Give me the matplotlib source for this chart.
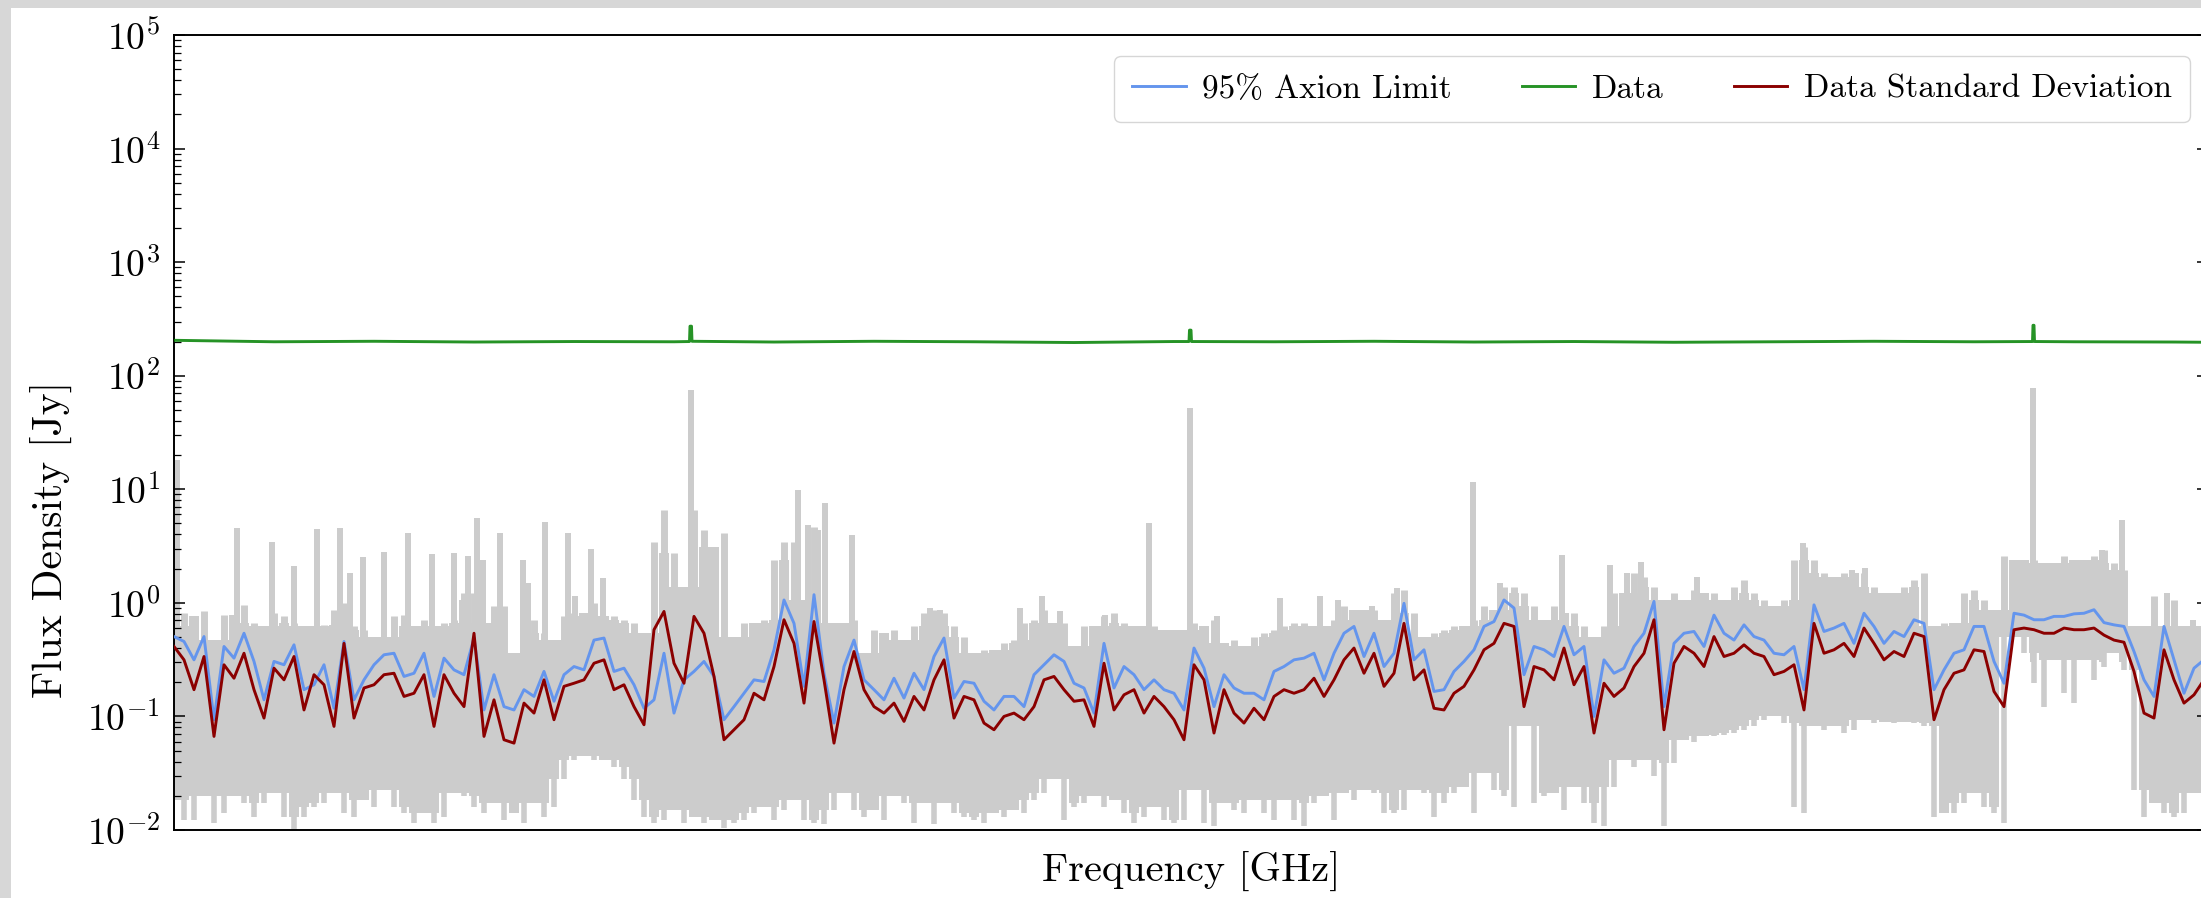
import numpy as np
import matplotlib
matplotlib.use("Agg")
import matplotlib.pyplot as plt
from matplotlib.patches import Rectangle
from matplotlib.ticker import LogLocator, NullFormatter

plt.rcParams.update({
    "font.family": "serif",
    "font.serif": ["cmr10"],
    "mathtext.fontset": "cm",
    "axes.formatter.use_mathtext": True,
})

# ---------------------------------------------------------------- data
# frequency channels (evenly spaced grid)
n_chan = 204
chan = np.arange(n_chan, dtype=float)

# 95% axion limit [Jy]
axion_limit = [
    0.505, 0.457, 0.315, 0.505, 0.0935, 0.413, 0.326, 0.54, 0.305, 0.14, 0.305, 0.285, 0.427, 0.172, 0.19, 0.285, 0.118,
    0.457, 0.14, 0.21, 0.285, 0.349, 0.36, 0.225, 0.24, 0.36, 0.15, 0.326, 0.257, 0.233, 0.49, 0.114, 0.233, 0.122,
    0.114, 0.172, 0.15, 0.249, 0.136, 0.233, 0.275, 0.257, 0.47, 0.49, 0.249, 0.266, 0.19, 0.118, 0.14, 0.36, 0.107,
    0.21, 0.249, 0.305, 0.225, 0.0935, 0.122, 0.16, 0.21, 0.203, 0.386, 1.06, 0.66, 0.184, 1.18, 0.24, 0.0874, 0.275,
    0.47, 0.21, 0.172, 0.14, 0.217, 0.145, 0.24, 0.172, 0.337, 0.49, 0.145, 0.203, 0.196, 0.136, 0.114, 0.15, 0.15,
    0.122, 0.233, 0.285, 0.349, 0.305, 0.196, 0.178, 0.107, 0.44, 0.178, 0.275, 0.233, 0.172, 0.21, 0.172, 0.16,
    0.114, 0.40, 0.266, 0.122, 0.233, 0.178, 0.16, 0.16, 0.14, 0.249, 0.275, 0.315, 0.326, 0.36, 0.21, 0.36, 0.54,
    0.62, 0.337, 0.54, 0.275, 0.36, 0.99, 0.315, 0.386, 0.166, 0.172, 0.249, 0.305, 0.386, 0.62, 0.685, 1.06, 0.90,
    0.233, 0.413, 0.386, 0.337, 0.62, 0.349, 0.413, 0.10, 0.315, 0.24, 0.266, 0.413, 0.54, 1.03, 0.122, 0.44, 0.54,
    0.56, 0.413, 0.78, 0.54, 0.47, 0.64, 0.505, 0.47, 0.36, 0.349, 0.413, 0.172, 0.96, 0.56, 0.60, 0.66,
    0.44, 0.81, 0.62, 0.44, 0.56, 0.505, 0.71, 0.66, 0.172, 0.257, 0.36, 0.386, 0.62, 0.62, 0.305, 0.196, 0.81, 0.78,
    0.71, 0.71, 0.76, 0.76, 0.80, 0.81, 0.87, 0.67, 0.64, 0.62, 0.373, 0.21, 0.15, 0.62, 0.315, 0.16, 0.266, 0.315,
]

# standard deviation of the data [Jy]
data_std = [
    0.413, 0.315, 0.172, 0.337, 0.0667, 0.285, 0.217, 0.36, 0.172, 0.0967, 0.266, 0.21, 0.337, 0.114, 0.233, 0.19, 0.0817,
    0.44, 0.0967, 0.178, 0.19, 0.233, 0.24, 0.15, 0.16, 0.233, 0.0817, 0.233, 0.16, 0.122, 0.54, 0.0667, 0.14, 0.0623,
    0.0582, 0.131, 0.107, 0.21, 0.0935, 0.184, 0.196, 0.21, 0.294, 0.315, 0.172, 0.19, 0.122, 0.0845, 0.58, 0.84, 0.294,
    0.196, 0.76, 0.54, 0.225, 0.0623, 0.0763, 0.0935, 0.16, 0.14, 0.275, 0.71, 0.44, 0.131, 0.685, 0.21, 0.0582, 0.172,
    0.373, 0.172, 0.122, 0.107, 0.131, 0.0904, 0.15, 0.114, 0.21, 0.315, 0.0967, 0.15, 0.14, 0.0874, 0.0763, 0.10, 0.107,
    0.0935, 0.122, 0.21, 0.225, 0.172, 0.136, 0.14, 0.0817, 0.294, 0.114, 0.155, 0.172, 0.107, 0.15, 0.122, 0.0935,
    0.0623, 0.285, 0.21, 0.0714, 0.172, 0.107, 0.0874, 0.118, 0.0935, 0.15, 0.172, 0.16, 0.172, 0.217, 0.15, 0.21, 0.315,
    0.40, 0.24, 0.36, 0.184, 0.24, 0.66, 0.21, 0.257, 0.118, 0.114, 0.16, 0.184, 0.257, 0.386, 0.44, 0.66, 0.62,
    0.122, 0.275, 0.257, 0.21, 0.40, 0.19, 0.275, 0.0714, 0.196, 0.15, 0.178, 0.275, 0.36, 0.71, 0.0763, 0.294, 0.413,
    0.36, 0.275, 0.505, 0.337, 0.36, 0.427, 0.36, 0.337, 0.233, 0.249, 0.285, 0.114, 0.66, 0.36, 0.386, 0.44,
    0.337, 0.60, 0.44, 0.315, 0.373, 0.337, 0.54, 0.505, 0.0935, 0.172, 0.24, 0.257, 0.386, 0.373, 0.166, 0.122, 0.58,
    0.60, 0.58, 0.54, 0.54, 0.60, 0.58, 0.58, 0.60, 0.52, 0.47, 0.45, 0.249, 0.107, 0.0967, 0.386, 0.21, 0.131, 0.155, 0.21,
]

# residual spectrum envelope [Jy]: upper and lower edge per channel
resid_upper = [
    0.62, 0.81, 0.76, 0.84, 0.47, 0.78, 0.78, 0.96, 0.66, 0.62, 0.81, 0.76, 0.66, 0.62, 0.62, 0.64, 0.87,
    0.99, 0.62, 0.58, 0.505, 0.505, 0.76, 0.78, 0.62, 0.71, 0.62, 0.66, 0.71, 1.22, 1.22, 0.66, 0.93, 0.93,
    0.36, 0.62, 0.71, 0.54, 0.47, 0.76, 0.81, 0.81, 0.99, 0.76, 0.76, 0.71, 0.66, 0.54, 3.46, 6.58, 2.73,
    1.39, 6.58, 4.39, 3.13, 4.10, 0.505, 0.66, 0.66, 0.71, 2.39, 3.46, 3.46, 1.06, 4.70, 0.66, 0.66, 0.66,
    0.71, 0.36, 0.58, 0.54, 0.58, 0.47, 0.62, 0.81, 0.87, 0.81, 0.62, 0.505, 0.36, 0.386, 0.386, 0.44, 0.47,
    0.66, 0.71, 0.87, 0.66, 0.66, 0.413, 0.62, 0.62, 0.76, 0.81, 0.66, 0.62, 0.62, 0.62, 0.58, 0.58,
    0.58, 0.66, 0.62, 0.71, 0.44, 0.47, 0.413, 0.505, 0.54, 0.58, 0.62, 0.66, 0.66, 0.62, 0.62, 0.71, 0.93,
    0.87, 0.87, 0.87, 0.71, 1.22, 1.30, 0.81, 0.505, 0.54, 0.58, 0.62, 0.62, 0.71, 0.93, 0.87, 1.39, 1.39,
    1.22, 0.93, 0.71, 0.93, 0.81, 0.81, 0.62, 0.505, 0.62, 1.22, 1.22, 1.82, 1.70, 1.39, 1.06, 1.22, 1.06,
    1.30, 1.22, 1.22, 1.06, 1.39, 1.59, 1.22, 1.06, 0.93, 1.06, 2.39, 3.13, 2.39, 1.82, 1.70, 1.82,
    1.82, 1.82, 1.39, 1.22, 1.22, 1.39, 1.59, 1.82, 0.62, 0.66, 0.66, 1.22, 1.30, 1.06, 0.87, 2.56, 2.39, 2.39,
    2.39, 2.23, 2.23, 2.56, 2.39, 2.39, 2.56, 2.93, 2.23, 1.95, 0.62, 0.62, 1.14, 0.62, 1.06, 0.62, 0.62, 0.62,
]
resid_lower = [
    0.0185, 0.0123, 0.0123, 0.020, 0.0115, 0.014, 0.020, 0.0173, 0.013, 0.0173, 0.021, 0.013, 0.0101, 0.013, 0.016, 0.0173, 0.021,
    0.014, 0.013, 0.0185, 0.016, 0.0226, 0.016, 0.014, 0.0115, 0.014, 0.0115, 0.013, 0.021, 0.020, 0.016, 0.014, 0.0173, 0.0123,
    0.014, 0.0115, 0.0173, 0.013, 0.016, 0.028, 0.0416, 0.0445, 0.0416, 0.0416, 0.036, 0.028, 0.0185, 0.013, 0.0115, 0.0123, 0.015,
    0.0115, 0.013, 0.0115, 0.0123, 0.0104, 0.0115, 0.0123, 0.014, 0.016, 0.0123, 0.015, 0.0185, 0.0123, 0.0115, 0.0112, 0.015, 0.021,
    0.015, 0.013, 0.015, 0.0123, 0.020, 0.0173, 0.0115, 0.0173, 0.0112, 0.0173, 0.014, 0.013, 0.0123, 0.0115, 0.014, 0.013, 0.015,
    0.014, 0.0185, 0.021, 0.028, 0.0123, 0.016, 0.0173, 0.020, 0.016, 0.0185, 0.014, 0.0115, 0.013, 0.016, 0.0123, 0.0115,
    0.0123, 0.0226, 0.0115, 0.0108, 0.0173, 0.015, 0.014, 0.0185, 0.014, 0.0123, 0.0185, 0.0123, 0.0108, 0.0173, 0.020, 0.0123, 0.021,
    0.0185, 0.0226, 0.021, 0.014, 0.014, 0.015, 0.0226, 0.021, 0.013, 0.0173, 0.021, 0.024, 0.014, 0.032, 0.0226, 0.020, 0.016,
    0.082, 0.0173, 0.020, 0.021, 0.015, 0.024, 0.0173, 0.0115, 0.0108, 0.024, 0.0416, 0.036, 0.0416, 0.030, 0.0108, 0.039, 0.062,
    0.060, 0.067, 0.067, 0.069, 0.071, 0.076, 0.082, 0.0935, 0.10, 0.087, 0.016, 0.014, 0.082, 0.076, 0.082, 0.071,
    0.076, 0.0935, 0.087, 0.090, 0.087, 0.090, 0.087, 0.082, 0.013, 0.014, 0.014, 0.0173, 0.021, 0.016, 0.014, 0.0115, 0.505, 0.36,
    0.196, 0.122, 0.315, 0.16, 0.131, 0.315, 0.21, 0.275, 0.36, 0.257, 0.0226, 0.013, 0.0173, 0.014, 0.013, 0.014, 0.021, 0.021,
]

# narrow residual spikes: channel position and peak [Jy]
spike_chan = [
    0.27, 6.27, 9.77, 12.0, 14.27, 16.6, 17.6, 18.87, 21.0, 23.43, 25.77, 28.0, 28.77, 29.37, 30.27, 30.93,
    32.6, 34.93, 35.43, 37.1, 39.43, 40.1, 41.67, 42.87, 51.67, 62.43, 63.43, 64.43, 65.1, 67.83, 75.6, 76.6,
    84.6, 86.77, 88.6, 93.1, 97.53, 101.6, 104.27, 110.6, 114.6, 116.43, 119.77, 122.27, 129.93, 132.6,
    138.77, 143.6, 145.27, 146.7, 152.27, 162.93, 167.77, 169.1, 185.93, 192.77, 194.77, 199.27, 201.93,
]
spike_jy = [
    18.1, 4.54, 3.40, 2.09, 4.48, 4.54, 1.82, 2.52, 2.79, 4.16, 2.70, 2.77, 1.06, 2.59, 5.56, 2.39,
    4.10, 2.39, 1.49, 5.19, 4.10, 1.14, 2.99, 1.65, 74.8, 9.86, 4.85, 4.39, 7.53, 3.97, 0.90, 0.87,
    0.90, 1.14, 0.84, 0.78, 5.02, 51.6, 0.76, 1.10, 1.14, 1.06, 0.93, 1.35, 11.7, 1.49,
    2.64, 2.16, 1.82, 2.31, 1.70, 3.35, 1.95, 2.02, 77.4, 2.93, 5.37, 1.22, 0.71,
]

# measured flux density [Jy]
data_chan = [0, 10, 20, 30, 40, 50, 51.55, 51.6, 51.75, 51.8, 60, 70, 80, 90, 100,
             101.5, 101.55, 101.7, 101.75, 110, 120, 130, 140, 150, 160, 170, 180,
             185.85, 185.9, 186.0, 186.05, 190, 200, 203.4]
data_jy = [205, 199, 201, 198, 200, 199, 200, 273, 273, 201, 198, 201, 199, 196, 200,
           200, 252, 252, 200, 199, 201, 198, 200, 197, 199, 201, 199,
           200, 278, 278, 200, 199, 198, 197]

# ---------------------------------------------------------------- figure
W, H = 2201, 898
fig = plt.figure(figsize=(W / 100, H / 100), dpi=100)
fig.patch.set_facecolor("white")
# light frame strips along the top and left edge
fig.patches.append(Rectangle((0, 1 - 8 / H), 1, 8 / H, transform=fig.transFigure,
                             facecolor="#d7d7d7", edgecolor="none", zorder=-10))
fig.patches.append(Rectangle((0, 0), 11 / W, 1, transform=fig.transFigure,
                             facecolor="#d7d7d7", edgecolor="none", zorder=-10))

ax = fig.add_axes([174 / W, 68 / H, 2034 / W, 795 / H])

# residual band: solid core plus single-channel strands poking out of it
gray = "#cccccc"
lo = np.asarray(resid_lower)
up = np.asarray(resid_upper)
lo_pad = np.concatenate([lo[:1], lo, lo[-1:]])
up_pad = np.concatenate([up[:1], up, up[-1:]])
core_lo = np.maximum.reduce([lo_pad[:-2], lo_pad[1:-1], lo_pad[2:]])
core_up = np.minimum.reduce([up_pad[:-2], up_pad[1:-1], up_pad[2:]])
core_up = np.maximum(core_up, core_lo)
ax.fill_between(chan, core_lo, core_up, step="mid", color=gray, linewidth=0, zorder=1)
ax.vlines(chan, lo, core_lo, color=gray, linewidth=4.0, zorder=1, capstyle="butt")
ax.vlines(chan, core_up, up, color=gray, linewidth=5.0, zorder=1, capstyle="butt")
ax.vlines(spike_chan, 0.3, spike_jy, color=gray, linewidth=4.3, zorder=1, capstyle="butt")

ax.plot(chan, axion_limit, color="cornflowerblue", lw=2.1, label="95% Axion Limit", zorder=3)
ax.plot(data_chan, data_jy, color="green", lw=2.1, alpha=0.85, label="Data", zorder=3)
ax.plot(chan, data_std, color="darkred", lw=2.1, label="Data Standard Deviation", zorder=4)

ax.set_yscale("log")
ax.set_ylim(1e-2, 1e5)
ax.set_xlim(0, 203.4)
ax.set_xticks([])
ax.yaxis.set_major_locator(LogLocator(base=10, numticks=20))
ax.yaxis.set_minor_locator(LogLocator(base=10, subs=np.arange(2, 10), numticks=100))
ax.yaxis.set_minor_formatter(NullFormatter())
ax.tick_params(axis="y", which="both", direction="in", left=True, right=True, labelsize=27, pad=10)
ax.tick_params(axis="y", which="major", length=7.7, width=1.1)
ax.tick_params(axis="y", which="minor", length=4.8, width=0.9)
for s in ax.spines.values():
    s.set_linewidth(1.4)

ax.set_xlabel("Frequency [GHz]", fontsize=29)
ax.set_ylabel("Flux Density [Jy]", fontsize=30)
ax.xaxis.set_label_coords(0.5, -0.028)
ax.yaxis.set_label_coords(-0.05, 0.366)

ax.legend(loc="upper right", bbox_to_anchor=(0.9912, 0.9736), borderaxespad=0, ncol=3,
          fontsize=24, handlelength=1.6, handletextpad=0.5, columnspacing=2.1,
          borderpad=0.55, fancybox=True, framealpha=0.8, edgecolor="0.8")

fig.savefig("out.png", dpi=100)
